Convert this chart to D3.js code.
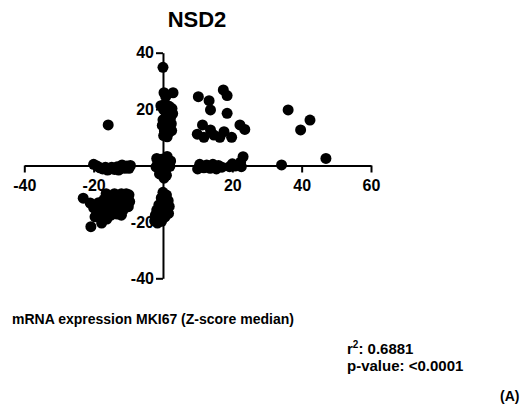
<!DOCTYPE html>
<html>
<head>
<meta charset="utf-8">
<script src="https://cdn.jsdelivr.net/npm/d3@7"></script>
<style>
  body { margin: 0; background: #fff; }
  svg { display: block; font-family: "Liberation Sans", Arial, sans-serif; font-weight: bold; }
</style>
</head>
<body>
<div id="chart"></div>
<script>
// MKI67 z-score (x) vs NSD2 z-score (y)
const points = [
    // upper column near x = 0
    [0, 34.8], [0.3, 25.8], [2.9, 25.8], [0.8, 24.5], [-0.6, 21.2], [0.6, 21.8], [1.8, 21], [2.6, 20.2],
    [0.2, 19.8], [1.4, 19.2], [2.8, 18.4], [0.9, 17.6], [2.2, 17], [0, 16.2], [1.3, 15.6], [2.4, 14.8],
    [-0.2, 14.2], [1, 13.6], [2, 13], [0.4, 12.2], [1.6, 11.6], [0.2, 10.6], [1.2, 10.2], [2.5, 12.4],
    // cluster at origin
    [-1.5, 1], [0, 0], [1.5, 0.5], [-0.8, -1.2], [0.8, -1.5], [1.2, 3.2], [-0.5, 2.2], [0.5, 1.8],
    [2, -0.3], [-2, -0.5], [0, -2.5], [1, -3.5], [-1, -3], [0.3, -4.5], [2.2, 1.6], [-1.8, 2.5],
    // lower column near x = 0
    [0, -9.5], [1, -10.5], [-0.5, -11.5], [1.5, -12.5], [0.2, -13.2], [-1.2, -14], [1.8, -14.5], [0.5, -15.2],
    [-1.8, -15.8], [1.2, -16.4], [-0.6, -16.8], [-2.2, -17.6], [0.6, -18.2], [-1.3, -18.8], [-2.4, -19.6],
    [-0.4, -19.8], [-1.6, -20.4], [1.6, -17], [-0.2, -12],
    // row on the negative x axis
    [-20, 0.4], [-19, -0.2], [-18.2, -0.8], [-17.4, -1.2], [-16.6, -0.6], [-15.6, -1.4], [-14.8, -0.6],
    [-14, -1.4], [-13.2, -0.4], [-12.4, -1.2], [-11.8, 0.2], [-11, -1], [-10.4, -0.2], [-9.8, -1],
    [-9.4, 0], [-12.8, -1.6], [-16, -1.6],
    [-15.8, 14.4],
    // lower-left cluster
    [-23, -11.6], [-21, -13.3], [-20.8, -21.7], [-17.7, -20.4], [-19.6, -18.2], [-19, -16], [-20, -15],
    [-18.6, -13.2], [-17.8, -15.4], [-17, -12], [-16.4, -10], [-15.2, -11], [-14, -10], [-13, -10.6],
    [-12, -10], [-11, -11], [-10, -12], [-16.6, -14], [-15.2, -13.6], [-14, -12.6], [-13, -13.2],
    [-12, -12.6], [-11, -14], [-10, -14.6], [-9.6, -12.8], [-16, -16.6], [-14.6, -15.6], [-13.2, -15.6],
    [-11.6, -16], [-15, -17.6], [-13.2, -17.2], [-17, -17.2], [-12, -17.6], [-16.2, -19], [-18, -18.4],
    [-10.6, -10], [-9.8, -10.4],
    // upper-right scatter
    [10.2, 24.4], [13.3, 23], [13.7, 19.7], [17.4, 26.8], [18.5, 24.8], [18.5, 18.5], [11.4, 14.4],
    [9.9, 11.1], [11.8, 10], [13.7, 12.6], [14.7, 10.8], [16.4, 10], [17.6, 12], [19.8, 10], [22.2, 14.4],
    [23.6, 12.8], [36.1, 19.7], [42.4, 16.1], [39.7, 12.6], [47, 2.5], [23.1, 3.1],
    // row on the positive x axis
    [10, -1.2], [10.6, 0.4], [11.8, -0.8], [12.6, 0.2], [13.6, -1], [14.4, 0.4], [15.4, -1.2], [16, 0],
    [17, -0.6], [19.2, -0.4], [20, 0.6], [20.8, -0.2], [22.6, -0.4], [22.4, 1.2], [34.2, 0.2]
];

const xDomain = [-40, 60];
const yDomain = [-40, 40];
const xTicks = [-40, -20, 20, 40, 60];
const yTicks = [-40, -20, 20, 40];

const title = 'NSD2';
const xLabel = 'mRNA expression MKI67 (Z-score median)';
const rSquared = '0.6881';
const pValue = '<0.0001';
const panelTag = '(A)';

const width = 523;
const height = 408;

const svg = d3.select('#chart')
    .append('svg')
    .attr('width', width)
    .attr('height', height);

const x = d3.scaleLinear().domain(xDomain).range([24.3, 371]);
const y = d3.scaleLinear().domain(yDomain).range([278.3, 52.7]);

// plain hyphen for negatives, as in the original
const tickText = (d) => String(d);

const styleAxis = (g) => {
    g.select('.domain').attr('stroke', '#000').attr('stroke-width', 2);
    g.selectAll('.tick line').attr('stroke', '#000').attr('stroke-width', 2);
    g.selectAll('.tick text')
        .attr('fill', '#000')
        .style('font-size', '16px')
        .style('font-weight', 'bold')
        .style('font-family', '"Liberation Sans", Arial, sans-serif');
};

svg.append('g')
    .attr('transform', `translate(0,${y(0)})`)
    .call(d3.axisBottom(x).tickValues(xTicks).tickFormat(tickText).tickSize(7).tickSizeOuter(0).tickPadding(7))
    .call(styleAxis);

svg.append('g')
    .attr('transform', `translate(${x(0)},0)`)
    .call(d3.axisLeft(y).tickValues(yTicks).tickFormat(tickText).tickSize(7).tickSizeOuter(0).tickPadding(2))
    .call(styleAxis);

svg.append('g')
    .selectAll('circle')
    .data(points)
    .join('circle')
    .attr('cx', (d) => x(d[0]))
    .attr('cy', (d) => y(d[1]))
    .attr('r', 5.5)
    .attr('fill', '#000');

svg.append('text')
    .attr('x', 197)
    .attr('y', 27)
    .attr('text-anchor', 'middle')
    .style('font-size', '22px')
    .text(title);

svg.append('text')
    .attr('x', 12)
    .attr('y', 324)
    .style('font-size', '14px')
    .text(xLabel);

const stats = svg.append('text')
    .attr('x', 347)
    .attr('y', 354)
    .style('font-size', '15px');
stats.append('tspan').text('r');
stats.append('tspan').attr('dy', -6).style('font-size', '10px').text('2');
stats.append('tspan').attr('dy', 6).text(`: ${rSquared}`);

svg.append('text')
    .attr('x', 347)
    .attr('y', 371)
    .style('font-size', '15px')
    .text(`p-value: ${pValue}`);

svg.append('text')
    .attr('x', 500)
    .attr('y', 401)
    .style('font-size', '14px')
    .text(panelTag);
</script>
</body>
</html>
